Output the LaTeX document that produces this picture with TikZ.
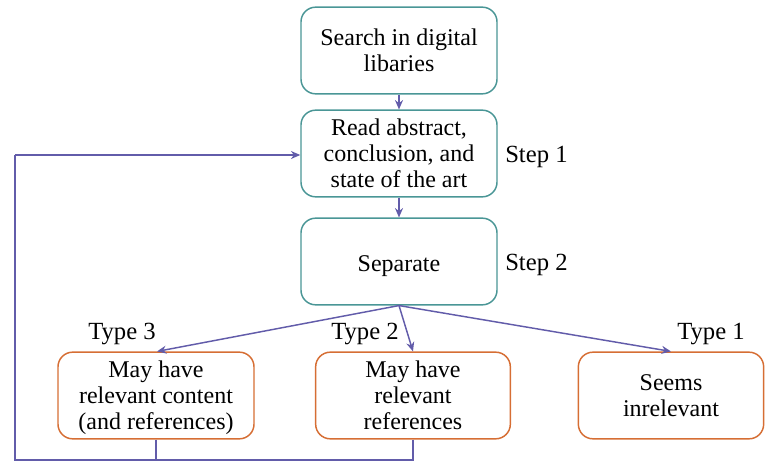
\documentclass[tikz,border=0pt]{standalone}
\usepackage{fontspec}
\setmainfont{Liberation Serif}
\usetikzlibrary{arrows.meta}
\definecolor{tealb}{RGB}{74,150,150}
\definecolor{orangeb}{RGB}{214,110,52}
\definecolor{arrowc}{RGB}{98,92,170}
\begin{document}
\begin{tikzpicture}[x=0.75pt,y=-0.75pt,
  box/.style={draw, rounded corners=11pt, line width=1.1pt, align=center,
    inner sep=0pt, font=\fontsize{18}{19.5}\selectfont, fill=white},
  topbox/.style={box, draw=tealb, minimum width=147pt, minimum height=65pt},
  lowbox/.style={box, draw=orangeb, minimum height=65pt},
  txt/.style={align=center, inner sep=0pt, font=\fontsize{18}{19.5}\selectfont},
  lbl/.style={font=\fontsize{18.5}{20}\selectfont, inner sep=0pt},
  conn/.style={draw=arrowc, line width=1.1pt, -{Stealth[length=7pt,width=6pt]}},
  loop/.style={draw=arrowc, line width=1.6pt}]
\useasboundingbox (0,0) rectangle (765,464);
\node[topbox] (s) at (399,50.5) {Search in digital\\libaries};
\node[topbox] (r) at (399,153.5) {Read abstract,\\conclusion, and\\state of the art};
\node[topbox] (p) at (399,261.5) {};
\node[txt] (pt) at (399,266) {Separate};
\node[lowbox, minimum width=147pt] (a) at (156,395.5) {};
\node[txt] (at) at (156,398) {May have\\relevant content\\(and references)};
\node[lowbox, minimum width=146pt] (b) at (413,395.5) {May have\\relevant\\references};
\node[lowbox, minimum width=139pt] (c) at (671,395.5) {Seems\\inrelevant};
\node[lbl, anchor=west] (st1) at (505,157) {Step 1};
\node[lbl, anchor=west] (st2) at (505,265) {Step 2};
\node[lbl] (t3) at (122,334) {Type 3};
\node[lbl] (t2) at (365,334) {Type 2};
\node[lbl] (t1) at (711,334) {Type 1};
\draw[conn] (s.south) -- (r.north);
\draw[conn] (r.south) -- (p.north);
\coordinate (pb) at (p.south);
\draw[conn] (pb) -- ([xshift=0.75pt]a.north);
\draw[conn] (pb) -- (b.north);
\draw[conn] (pb) -- (c.north);
\coordinate (lbot) at (15,460);
\coordinate (ltop) at (15,155);
\draw[loop] (b.south) |- (lbot) -- (ltop);
\draw[loop] (a.south) -- (a.south |- lbot);
\draw[loop, -{Stealth[length=7pt,width=6pt]}] (ltop) -- (ltop -| r.west);
\end{tikzpicture}
\end{document}
